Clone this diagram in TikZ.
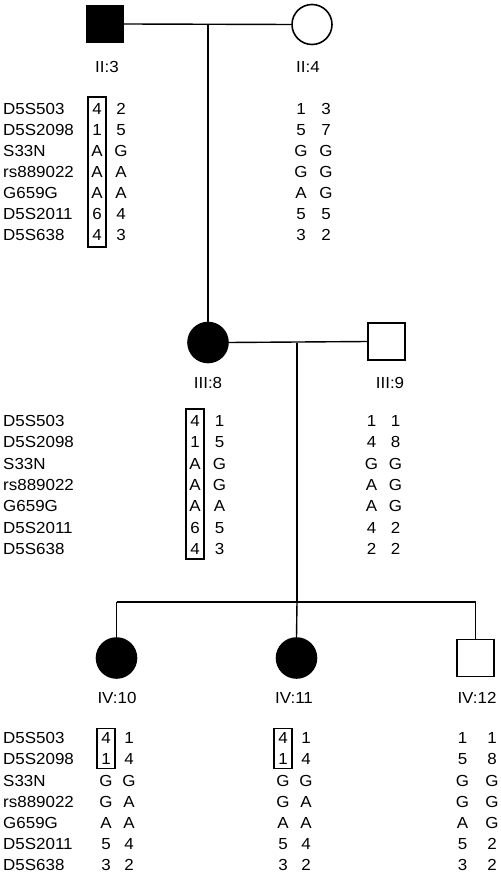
\documentclass[tikz,border=0pt]{standalone}
\usepackage{fontspec}
\setmainfont{Liberation Sans}[FakeStretch=1.06]
\begin{document}
\begin{tikzpicture}[x=1pt,y=-1pt,
  txt/.style={inner sep=0pt,font=\fontsize{16}{19}\selectfont},
  lab/.style={txt,anchor=base west},
  al/.style={txt,anchor=base},
  idl/.style={txt,anchor=center},
  male/.style={draw,line width=1.4pt,minimum size=37pt,inner sep=0pt},
  female/.style={draw,circle,line width=1.6pt,minimum size=40pt,inner sep=0pt},
  aff/.style={fill=black},
  unaff/.style={fill=white},
  hap/.style={draw,line width=1.1pt,inner sep=0pt},
  link/.style={line width=1.4pt}]
\fill[white] (0,0) rectangle (500,874);
\useasboundingbox (0,0) rectangle (500,874);

% individuals
\node[male,aff] (II3) at (105,24) {};
\node[female,unaff] (II4) at (312,24.5) {};
\node[female,aff] (III8) at (208,342.5) {};
\node[male,unaff] (III9) at (386.5,341.5) {};
\node[female,aff] (IV10) at (116.5,658) {};
\node[female,aff] (IV11) at (296.5,658) {};
\node[male,unaff] (IV12) at (475.5,658) {};

% ids
\node[idl] (lII3) at (107,67) {II:3};
\node[idl] (lII4) at (308,67) {II:4};
\node[idl] (lIII8) at (208,383) {III:8};
\node[idl] (lIII9) at (390,383) {III:9};
\node[idl] (lIV10) at (117,698) {IV:10};
\node[idl] (lIV11) at (294,698) {IV:11};
\node[idl] (lIV12) at (477,698) {IV:12};

% connectors
\coordinate (m1) at (208,24);
\draw[link] (II3.east) -- (II4.west);
\draw[link] (m1) -- (III8.north);
\coordinate (m2) at (297,342.5);
\coordinate (s0) at (297,602);
\coordinate (sL) at (116.5,602);
\coordinate (sR) at (475.5,602);
\draw[link] (III8.east) -- (III9.west);
\draw[link] (m2) -- (s0);
\draw[link] (sL) -- (sR);
\draw[link] (sL) -- (IV10.north);
\draw[link] (s0) -- (IV11.north);
\draw[link] (sR) -- (IV12.north);

% marker names
\foreach \m [count=\i] in {D5S503,D5S2098,S33N,rs889022,G659G,D5S2011,D5S638} {
  \node[lab] (mkII\i) at (3,{114.7+21*(\i-1)}) {\m};
  \node[lab] (mkIII\i) at (3,{426.5+21.3*(\i-1)}) {\m};
  \node[lab] (mkIV\i) at (3,{743.7+21.2*(\i-1)}) {\m};
}

% II:3
\foreach \a/\b [count=\i] in {4/2,1/5,A/G,A/A,A/A,6/4,4/3} {
  \node[al] (aII3\i) at (97,{114.7+21*(\i-1)}) {\a};
  \node[al] (bII3\i) at (121,{114.7+21*(\i-1)}) {\b};
}
% II:4
\foreach \a/\b [count=\i] in {1/3,5/7,G/G,G/G,A/G,5/5,3/2} {
  \node[al] (aII4\i) at (301,{114.7+21*(\i-1)}) {\a};
  \node[al] (bII4\i) at (326,{114.7+21*(\i-1)}) {\b};
}
% III:8
\foreach \a/\b [count=\i] in {4/1,1/5,A/G,A/G,A/A,6/5,4/3} {
  \node[al] (aIII8\i) at (195,{426.5+21.3*(\i-1)}) {\a};
  \node[al] (bIII8\i) at (219.5,{426.5+21.3*(\i-1)}) {\b};
}
% III:9
\foreach \a/\b [count=\i] in {1/1,4/8,G/G,A/G,A/G,4/2,2/2} {
  \node[al] (aIII9\i) at (371.5,{426.5+21.3*(\i-1)}) {\a};
  \node[al] (bIII9\i) at (395.5,{426.5+21.3*(\i-1)}) {\b};
}
% IV:10
\foreach \a/\b [count=\i] in {4/1,1/4,G/G,G/A,A/A,5/4,3/2} {
  \node[al] (aIV10\i) at (106,{743.7+21.2*(\i-1)}) {\a};
  \node[al] (bIV10\i) at (129,{743.7+21.2*(\i-1)}) {\b};
}
% IV:11
\foreach \a/\b [count=\i] in {4/1,1/4,G/G,G/A,A/A,5/4,3/2} {
  \node[al] (aIV11\i) at (283,{743.7+21.2*(\i-1)}) {\a};
  \node[al] (bIV11\i) at (306,{743.7+21.2*(\i-1)}) {\b};
}
% IV:12
\foreach \a/\b [count=\i] in {1/1,5/8,G/G,G/G,A/G,5/2,3/2} {
  \node[al] (aIV12\i) at (462.5,{743.7+21.2*(\i-1)}) {\a};
  \node[al] (bIV12\i) at (492,{743.7+21.2*(\i-1)}) {\b};
}

% haplotype boxes
\node[hap,minimum width=18pt,minimum height=150pt] (hII3) at (97,172) {};
\node[hap,minimum width=18pt,minimum height=150pt] (hIII8) at (195,484) {};
\node[hap,minimum width=18pt,minimum height=40pt] (hIV10) at (106,748.5) {};
\node[hap,minimum width=18pt,minimum height=40pt] (hIV11) at (283,748.5) {};
\end{tikzpicture}
\end{document}
